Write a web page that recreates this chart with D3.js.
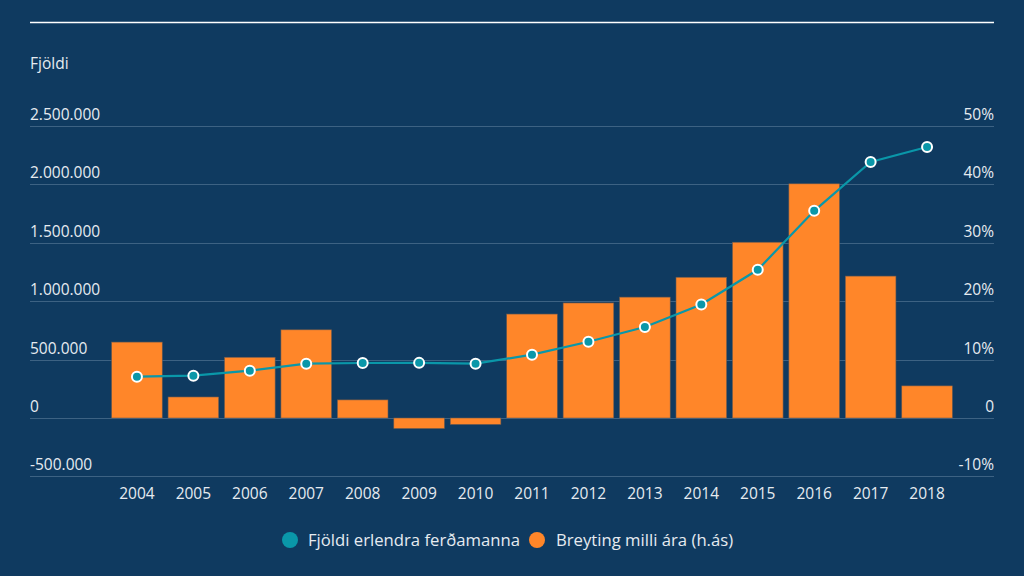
<!DOCTYPE html>
<html><head><meta charset="utf-8">
<script src="https://cdn.jsdelivr.net/npm/d3@7"></script>
<style>
html,body{margin:0;padding:0;background:#0f3a60;}
text{font-family:"Open Sans",sans-serif;}
</style></head>
<body>
<svg id="c" width="1024" height="576"></svg>
<script>
const years = ["2004","2005","2006","2007","2008","2009","2010","2011","2012","2013","2014","2015","2016","2017","2018"];
const visitors = [354000,362000,405000,465000,471000,472000,465000,542000,653000,779000,972000,1269000,1774000,2192000,2320000];
const changePct = [13.0,3.6,10.4,15.1,3.1,-1.8,-1.1,17.8,19.7,20.7,24.1,30.1,40.1,24.3,5.5];
const leftTicks = [-500000,0,500000,1000000,1500000,2000000,2500000];
const rightTicks = [-10,0,10,20,30,40,50];
const seriesNames = ["Fjöldi erlendra ferðamanna","Breyting milli ára (h.ás)"];
const yTitle = "Fjöldi";

const svg = d3.select("#c");
const W=1024,H=576;
svg.append("rect").attr("width",W).attr("height",H).attr("fill","#0f3a60");
const txt="#e6ebf0", grid="#3d6283", teal="#0a97a9", orange="#ff8629";

const x = d3.scaleBand().domain(years).range([108.8,955.2]).paddingInner(0.103).paddingOuter(0.05);
const yL = d3.scaleLinear().domain([-500000,2500000]).range([476.4,126]);
const yR = d3.scaleLinear().domain([-10,50]).range([476.4,126]);

svg.append("line").attr("x1",30).attr("x2",994).attr("y1",22.5).attr("y2",22.5).attr("stroke","#ffffff").attr("stroke-width",1.3);
svg.append("text").attr("x",30).attr("y",69).attr("fill",txt).attr("font-size",15.5).text(yTitle);

svg.append("g").selectAll("line").data(leftTicks).join("line")
  .attr("x1",30).attr("x2",994).attr("y1",d=>Math.round(yL(d))+0.5).attr("y2",d=>Math.round(yL(d))+0.5)
  .attr("stroke",grid).attr("stroke-width",1);
const fmt = d => d3.format(",")(d).replace(/,/g,".").replace("\u2212","-");
svg.append("g").selectAll("text").data(leftTicks).join("text")
  .attr("x",30).attr("y",d=>yL(d)-6).attr("fill",txt).attr("font-size",15.5).text(fmt);
svg.append("g").selectAll("text").data(rightTicks).join("text")
  .attr("x",994).attr("y",d=>yR(d)-6).attr("text-anchor","end").attr("fill",txt).attr("font-size",15.5)
  .text(d=>d===0?"0":d+"%");

svg.append("g").selectAll("rect").data(changePct).join("rect")
  .attr("x",(d,i)=>x(years[i])).attr("width",x.bandwidth())
  .attr("y",d=>yR(Math.max(0,d))).attr("height",d=>Math.abs(yR(d)-yR(0)))
  .attr("fill",orange).attr("stroke","#6b5a50").attr("stroke-width",0.6);

svg.append("g").selectAll("text").data(years).join("text")
  .attr("x",d=>x(d)+x.bandwidth()/2).attr("y",499).attr("text-anchor","middle").attr("fill",txt).attr("font-size",15.5).text(d=>d);

const line = d3.line().x((d,i)=>x(years[i])+x.bandwidth()/2).y(d=>yL(d));
svg.append("path").datum(visitors).attr("d",line).attr("fill","none").attr("stroke",teal).attr("stroke-width",2.2);
svg.append("g").selectAll("circle").data(visitors).join("circle")
  .attr("cx",(d,i)=>x(years[i])+x.bandwidth()/2).attr("cy",d=>yL(d)).attr("r",5)
  .attr("fill",teal).attr("stroke","#ffffff").attr("stroke-width",2);

const lg = svg.append("g");
lg.append("circle").attr("cx",290).attr("cy",540).attr("r",8).attr("fill",teal);
lg.append("text").attr("x",308).attr("y",546).attr("fill",txt).attr("font-size",16.7).text(seriesNames[0]);
lg.append("circle").attr("cx",537).attr("cy",540).attr("r",8).attr("fill",orange);
lg.append("text").attr("x",556).attr("y",546).attr("fill",txt).attr("font-size",16.7).text(seriesNames[1]);
</script>
</body></html>
